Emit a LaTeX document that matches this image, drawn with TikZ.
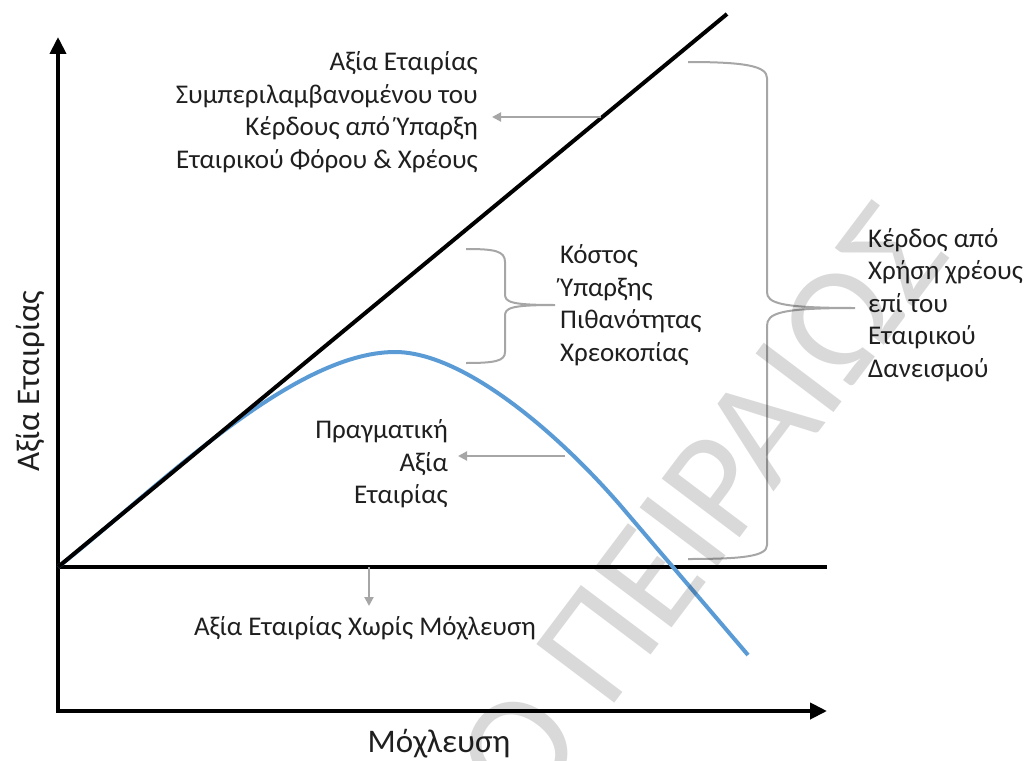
\documentclass[tikz,border=0pt]{standalone}
\usepackage{fontspec}
\setmainfont{Carlito}
\usetikzlibrary{arrows.meta}
\definecolor{curveblue}{HTML}{5B9BD5}
\definecolor{pointergray}{HTML}{A6A6A6}
\tikzset{
  txt/.style={font=\fontsize{27}{32.5}\selectfont,inner sep=0pt,text=black!88},
  axistxt/.style={font=\fontsize{33}{36}\selectfont,inner sep=0pt,text=black!88},
  axis/.style={line width=4pt,line join=miter,{Triangle[length=17pt,width=16pt]}-{Triangle[length=17pt,width=16pt]}},
  thick line/.style={line width=4pt},
  pointer/.style={draw=pointergray,line width=2pt,-{Triangle[length=9pt,width=9pt]}},
  bracket/.style={draw=pointergray,line width=2pt}
}

\begin{document}
\begin{tikzpicture}[x=1pt,y=-1pt]
\useasboundingbox (0,0) rectangle (1027,760);
\clip (0,0) rectangle (1027,760);
% axes
\coordinate (corner) at (58,711);
\coordinate (ytop) at (58,37);
\coordinate (xend) at (827,711);
\draw[axis] (ytop) -- (corner) -- (xend);
\node[axistxt,rotate=90] (ylab) at (31,381) {Αξία Εταιρίας};
\node[axistxt] (xlab) at (439,744) {Μόχλευση};
% value lines
\coordinate (base) at (58,567);
\coordinate (baseend) at (827,567);
\coordinate (taxtop) at (727,14);
\draw[thick line] (base) -- (baseend);
\draw[curveblue,line width=4pt] (base) .. controls (150,495) and (290,352) .. (395,352)
  .. controls (462,352) and (555,430) .. (620,505) -- (748,655);
\draw[thick line] (base) -- (taxtop);
% labels
\node[txt,align=right,anchor=east] (withtax) at (478,112) {Αξία Εταιρίας\\Συμπεριλαμβανομένου του\\Κέρδους από Ύπαρξη\\Εταιρικού Φόρου \& Χρέους};
\node[txt,align=left,anchor=west] (distress) at (560,305) {Κόστος\\Ύπαρξης\\Πιθανότητας\\Χρεοκοπίας};
\node[txt,align=left,anchor=west] (taxgain) at (868,305) {Κέρδος από\\Χρήση χρέους\\επί του\\Εταιρικού\\Δανεισμού};
\node[txt,align=right,anchor=east] (actual) at (448,464) {Πραγματική\\Αξία\\Εταιρίας};
\node[txt] (unlev) at (365,628) {Αξία Εταιρίας Χωρίς Μόχλευση};
% pointers
\coordinate (ontax) at (601,117);
\coordinate (onblue) at (565,456);
\coordinate (onbase) at (369,567);
\draw[pointer] (ontax) -- ([xshift=14pt]withtax.east |- ontax);
\draw[pointer] (onblue) -- ([xshift=10pt]actual.east |- onblue);
\draw[pointer] (onbase) -- (369,606);
% braces
\draw[bracket] (466,249) .. controls (495,249) and (505,251) .. (505,262) -- (505,294)
  .. controls (505,302) and (510,305) .. (555,305)
  .. controls (510,305) and (505,308) .. (505,316) -- (505,352)
  .. controls (505,361) and (495,363) .. (466,363);
\draw[bracket] (688,62) .. controls (745,62) and (767,66) .. (767,78) -- (767,292)
  .. controls (767,303) and (780,308) .. (855,308)
  .. controls (780,308) and (767,313) .. (767,326) -- (767,545)
  .. controls (767,556) and (745,559) .. (688,559);
% watermark
\node[rotate=53,text=black,text opacity=0.15,font=\fontsize{152}{152}\selectfont,inner sep=0pt] (stamp) at (701,508) {Ο ΠΕΙΡΑΙΩΣ};
\end{tikzpicture}
\end{document}
